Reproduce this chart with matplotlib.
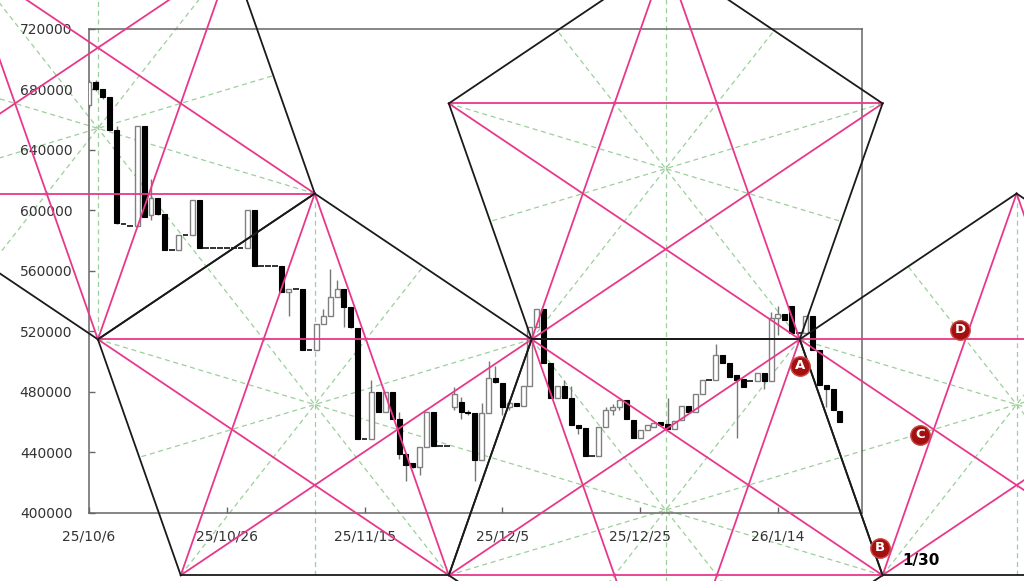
import numpy as np
import matplotlib
matplotlib.use("Agg")
import matplotlib.pyplot as plt
import matplotlib.dates as mdates
import datetime as dt

# ---------------- data ----------------
start_date = dt.date(2025, 10, 6)

opens = [670000, 685000, 680000, 675000, 653000, 591000, 590000, 590000, 656000, 597000,
         608000, 598000, 574000, 574000, 584000, 584000, 607000, 575000, 575000, 575000,
         575000, 575000, 575000, 575000, 600000, 563000, 563000, 563000, 563000, 546000,
         548000, 548000, 508000, 508000, 525000, 530000, 543000, 548000, 536500, 522000,
         449000, 449000, 480000, 467000, 480000, 462000, 439000, 432800, 430600, 443800,
         467000, 444000, 444000, 470000, 473500, 467000, 466000, 435000, 466000, 489000,
         486000, 470000, 473000, 471000, 484000, 523000, 534600, 499000, 476000, 484000,
         476000, 458000, 456000, 438000, 438000, 456700, 468000, 470000, 475000, 461500,
         449400, 455000, 457000, 460400, 458600, 455800, 461500, 470700, 467000, 479000,
         488000, 488000, 504500, 499000, 491000, 488400, 487000, 487500, 492800, 487500,
         528700, 531600, 537000, 519000, 518800, 530300, 507800, 484600, 481800, 467600]
highs = [686000, 686000, 680500, 675000, 656000, 591000, 590000, 656000, 656000, 621000,
         608000, 598000, 574000, 584000, 584000, 607000, 607000, 575000, 575000, 575000,
         575000, 575000, 575000, 600000, 600000, 563000, 563000, 563000, 563000, 548000,
         548000, 548000, 508000, 525000, 535000, 561000, 554000, 548000, 536500, 522000,
         449000, 488000, 480000, 480000, 480000, 467000, 439000, 432800, 443800, 467000,
         467000, 444000, 444000, 483500, 477000, 468000, 466000, 472500, 500700, 497000,
         486000, 475000, 473000, 484000, 523000, 534600, 534600, 499000, 484000, 488000,
         484000, 458000, 456000, 438000, 456700, 470000, 472000, 475000, 475000, 461500,
         455000, 458200, 459300, 460400, 476000, 460700, 470700, 470700, 479000, 488000,
         488000, 512000, 504500, 499000, 491000, 488400, 487000, 492800, 492800, 533000,
         537000, 531600, 537000, 519000, 530300, 530300, 507800, 484600, 481800, 467600]
lows = [668000, 679000, 674000, 653000, 591000, 591000, 590000, 590000, 596000, 594000,
        597000, 574000, 574000, 574000, 584000, 584000, 575000, 575000, 575000, 575000,
        575000, 575000, 575000, 575000, 563000, 563000, 563000, 563000, 546000, 530000,
        548000, 508000, 508000, 508000, 525000, 530000, 543000, 523000, 522000, 449000,
        449000, 449000, 467000, 467000, 462000, 436000, 421000, 430000, 425000, 443800,
        444000, 444000, 444000, 468000, 462000, 465000, 421000, 435000, 466000, 486000,
        465000, 468000, 470500, 471000, 484000, 523000, 499000, 476000, 476000, 476000,
        458000, 452000, 438000, 438000, 438000, 456700, 465000, 468000, 462000, 449400,
        449400, 455000, 457000, 458200, 455300, 455800, 461500, 467000, 467000, 479000,
        488000, 488000, 499000, 490000, 449400, 483500, 487000, 487500, 482000, 487500,
        518000, 527600, 518800, 519000, 518800, 507800, 484600, 470000, 468000, 460400]
closes = [685000, 680000, 675000, 653000, 591500, 591000, 590000, 656000, 596000, 608000,
          598000, 574000, 574000, 584000, 584000, 607000, 575000, 575000, 575000, 575000,
          575000, 575000, 575000, 600000, 563000, 563000, 563000, 563000, 546000, 548000,
          548000, 508000, 508000, 525000, 530000, 543000, 548000, 536500, 523000, 449000,
          449000, 480000, 467000, 480000, 462000, 439000, 432000, 430600, 443800, 467000,
          444000, 444000, 444000, 479000, 467000, 466000, 435000, 466000, 489000, 486800,
          470000, 473000, 471000, 484000, 523000, 534600, 499000, 476000, 484000, 476000,
          458000, 456000, 438000, 438000, 456700, 468000, 470000, 475000, 462000, 449400,
          455000, 458200, 459300, 458200, 455300, 460700, 470700, 467000, 479000, 488000,
          488000, 504500, 499000, 490000, 488000, 483500, 487000, 492800, 487500, 528700,
          531600, 527600, 518800, 519000, 530300, 507800, 484600, 481800, 468000, 460400]

y_ticks = [400000, 440000, 480000, 520000, 560000, 600000, 640000, 680000, 720000]
x_tick_days = [0, 20, 40, 60, 80, 100]

# geometric overlay (pentagon grid) anchors
base_center_day = 32.77       # centre of the first upward pentagon (days after start)
base_center_price = 471700
radius_days = 33.1
radius_price = 139500
markers = {"A": (103.2, 497200), "B": (114.8, 376900),
           "C": (120.6, 451600), "D": (126.4, 521000)}
note_text = "1/30"
note_pos = (118.1, 368900)

# ---------------- figure ----------------
fig = plt.figure(figsize=(10.24, 5.81), dpi=100)
ax = fig.add_axes([89 / 1024, 68 / 581, 773 / 1024, 484 / 581])

base = mdates.date2num(start_date)
n = len(opens)
xs = base + np.arange(n)
o = np.array(opens, float); h = np.array(highs, float)
l = np.array(lows, float); c = np.array(closes, float)

W = 0.72
flat = (o == c) & (h == l)
up = (c > o) & ~flat
dn = (c <= o) & ~flat

# wicks
ax.vlines(xs[~flat], l[~flat], h[~flat], color="#777777", lw=1.0, zorder=2)
# bodies
ax.bar(xs[up], (c - o)[up], bottom=o[up], width=W, color="white",
       edgecolor="#808080", lw=1.0, zorder=3)
ax.bar(xs[dn], np.maximum((o - c)[dn], 300), bottom=c[dn], width=W, color="black",
       edgecolor="black", lw=0.8, zorder=3)
# flat days
ax.hlines(c[flat], xs[flat] - 0.42, xs[flat] + 0.42, color="#333333", lw=1.4, zorder=3)

ax.set_xlim(base, base + 112.2)
ax.set_ylim(400000, 720000)
ax.set_yticks(y_ticks)
ax.set_yticklabels([str(v) for v in y_ticks])
ax.set_xticks([base + d for d in x_tick_days])
lbls = []
for d in x_tick_days:
    t = mdates.num2date(base + d)
    lbls.append(f"{t.year % 100}/{t.month}/{t.day}")
ax.set_xticklabels(lbls)
ax.tick_params(direction="in", length=4, width=1, color="#666666",
               labelsize=10, labelcolor="#333333")
ax.tick_params(axis="y", pad=12)
ax.tick_params(axis="x", pad=12)
for s in ax.spines.values():
    s.set_color("#666666")
    s.set_linewidth(1.1)

# ---------------- pentagon overlay ----------------
RX, RY = radius_days, radius_price
d2r = np.deg2rad
k = np.cos(d2r(18)) + np.sin(d2r(36))
cA = (base_center_day, base_center_price)
pentagons = [
    ((cA[0] - np.cos(d2r(18)) * RX, cA[1] + (1 + np.sin(d2r(18))) * RY), False),  # F
    (cA, True),                                                                     # A
    ((cA[0] + k * RX, cA[1] + (np.sin(d2r(18)) + np.cos(d2r(36))) * RY), True),     # B
    ((cA[0] + k * RX, cA[1] + (np.sin(d2r(18)) - np.cos(d2r(36))) * RY), False),    # D
    ((cA[0] + 2 * k * RX, cA[1]), True),                                            # C
]

BLACK = "#1a1a1a"
PINK = "#e8388c"
GREEN = "#9ccf9c"

def verts(center, upward):
    angs = [90, 162, 234, 306, 18] if upward else [270, 342, 54, 126, 198]
    a = d2r(np.array(angs, float))
    return base + center[0] + RX * np.cos(a), center[1] + RY * np.sin(a)

for center, upward in pentagons:
    vx, vy = verts(center, upward)
    for i in range(5):
        # symmetry axis: vertex -> opposite edge midpoint
        j, m = (i + 2) % 5, (i + 3) % 5
        mx, my = (vx[j] + vx[m]) / 2, (vy[j] + vy[m]) / 2
        ax.plot([vx[i], mx], [vy[i], my], color=GREEN, lw=0.9, ls=(0, (4, 3)),
                clip_on=False, zorder=1)
    for i in range(5):
        j = (i + 2) % 5
        ax.plot([vx[i], vx[j]], [vy[i], vy[j]], color=PINK, lw=1.3,
                clip_on=False, zorder=4)
    for i in range(5):
        j = (i + 1) % 5
        ax.plot([vx[i], vx[j]], [vy[i], vy[j]], color=BLACK, lw=1.3,
                clip_on=False, zorder=4)

for name, (dd, pp) in markers.items():
    ax.plot([base + dd], [pp], marker="o", ms=14, mfc="#a3100f", mec="#c94a46",
            mew=1.0, clip_on=False, zorder=6)
    ax.text(base + dd, pp, name, color="white", fontsize=9.5, fontweight="bold",
            ha="center", va="center", clip_on=False, zorder=7)

ax.text(base + note_pos[0], note_pos[1], note_text, fontsize=11, fontweight="bold",
        color="black", ha="left", va="center", clip_on=False, zorder=7)

fig.savefig("out.png", dpi=100)
